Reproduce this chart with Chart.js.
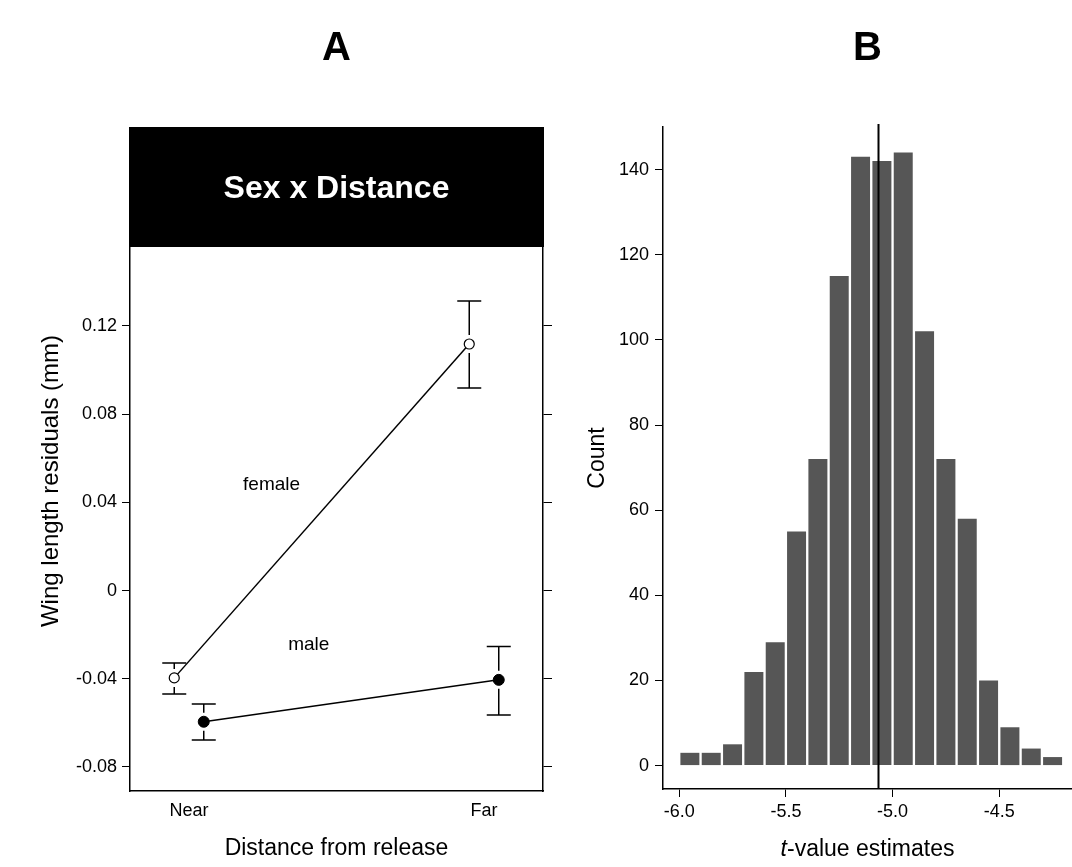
<!DOCTYPE html>
<html>
<head>
<meta charset="utf-8">
<script src="https://cdn.jsdelivr.net/npm/chart.js@4.4.1/dist/chart.umd.min.js"></script>
<style>
  html, body { margin: 0; padding: 0; background: #ffffff; }
  #page { position: relative; width: 1072px; height: 867px; overflow: hidden; }
  #panelA { position: absolute; left: 0; top: 0; width: 570px; height: 867px; }
  #panelB { position: absolute; left: 560px; top: 0; width: 512px; height: 867px; }
</style>
</head>
<body>
<div id="page">
  <div id="panelA"><canvas id="chartA"></canvas></div>
  <div id="panelB"><canvas id="chartB"></canvas></div>
</div>
<script>
// ---- Panel A: wing length residuals by sex and distance from release ----
const distanceLabels = ['Near', 'Far'];
const distancePos = [0, 1];
const femaleMean  = [-0.0396, 0.1118];
const femaleUpper = [-0.0328, 0.1313];
const femaleLower = [-0.0469, 0.0919];
const maleMean  = [-0.0595, -0.0405];
const maleUpper = [-0.0514, -0.0254];
const maleLower = [-0.0678, -0.0564];
const residualTicks = [-0.08, -0.04, 0, 0.04, 0.08, 0.12];

// ---- Panel B: distribution of t-value estimates ----
const binCentres = [-5.95, -5.85, -5.75, -5.65, -5.55, -5.45, -5.35, -5.25, -5.15,
                    -5.05, -4.95, -4.85, -4.75, -4.65, -4.55, -4.45, -4.35, -4.25];
const binCounts  = [3, 3, 5, 22, 29, 55, 72, 115, 143, 142, 144, 102, 72, 58, 20, 9, 4, 2];
const tTicks = [-6.0, -5.5, -5.0, -4.5];
const countTicks = [0, 20, 40, 60, 80, 100, 120, 140];
const observedT = -5.07;

const FONT = '"Liberation Sans", Arial, Helvetica, sans-serif';
Chart.defaults.font.family = FONT;
Chart.defaults.color = '#000';
Chart.defaults.animation = false;

const dodge = 0.05;
const sexSeries = [
  { name: 'female', offset: -dodge, mean: femaleMean, upper: femaleUpper, lower: femaleLower },
  { name: 'male',   offset:  dodge, mean: maleMean,   upper: maleUpper,   lower: maleLower }
];

// Black header band with the effect name, above the plotting area
const headerBand = {
  id: 'headerBand',
  afterDraw(chart) {
    const { ctx, chartArea } = chart;
    const top = 127;
    ctx.save();
    ctx.fillStyle = '#000';
    ctx.fillRect(chartArea.left - 1, top, chartArea.right - chartArea.left + 2, chartArea.top - top);
    ctx.fillStyle = '#fff';
    ctx.font = 'bold 32px ' + FONT;
    ctx.textAlign = 'center';
    ctx.textBaseline = 'alphabetic';
    ctx.fillText('Sex x Distance', (chartArea.left + chartArea.right) / 2, 198);
    ctx.restore();
  }
};

// Vertical axis title, centred a little above the middle of the axis
const residualTitle = {
  id: 'residualTitle',
  afterDraw(chart) {
    const { ctx } = chart;
    ctx.save();
    ctx.translate(51, 481);
    ctx.rotate(-Math.PI / 2);
    ctx.font = '24px ' + FONT;
    ctx.fillStyle = '#000';
    ctx.textAlign = 'center';
    ctx.textBaseline = 'middle';
    ctx.fillText('Wing length residuals (mm)', 0, 0);
    ctx.restore();
  }
};

// Whiskers (mean ± error) with a small gap around each marker
const errorBars = {
  id: 'errorBars',
  afterDatasetsDraw(chart) {
    const { ctx, scales: { x, y } } = chart;
    ctx.save();
    ctx.strokeStyle = '#000';
    ctx.lineWidth = 1.5;
    sexSeries.forEach(s => {
      s.mean.forEach((m, i) => {
        const px = x.getPixelForValue(distancePos[i] + s.offset);
        const pm = y.getPixelForValue(m);
        const pu = y.getPixelForValue(s.upper[i]);
        const pl = y.getPixelForValue(s.lower[i]);
        const gap = 9, half = 12;
        ctx.beginPath();
        if (pm - gap > pu) { ctx.moveTo(px, pm - gap); ctx.lineTo(px, pu); }
        if (pm + gap < pl) { ctx.moveTo(px, pm + gap); ctx.lineTo(px, pl); }
        ctx.moveTo(px - half, pu); ctx.lineTo(px + half, pu);
        ctx.moveTo(px - half, pl); ctx.lineTo(px + half, pl);
        ctx.stroke();
      });
    });
    ctx.restore();
  }
};

// Series names written beside their lines
const seriesNames = {
  id: 'seriesNames',
  afterDatasetsDraw(chart) {
    const { ctx, scales: { x, y } } = chart;
    ctx.save();
    ctx.font = '19px ' + FONT;
    ctx.fillStyle = '#000';
    ctx.textAlign = 'center';
    ctx.textBaseline = 'middle';
    ctx.fillText('female', x.getPixelForValue(0.28), y.getPixelForValue(0.048));
    ctx.fillText('male', x.getPixelForValue(0.406), y.getPixelForValue(-0.0247));
    ctx.restore();
  }
};

// Panel letter above each panel
function panelLetter(letter) {
  return {
    id: 'panelLetter',
    afterDraw(chart) {
      const { ctx, chartArea } = chart;
      ctx.save();
      ctx.font = 'bold 40px ' + FONT;
      ctx.fillStyle = '#000';
      ctx.textAlign = 'center';
      ctx.textBaseline = 'alphabetic';
      ctx.fillText(letter, (chartArea.left + chartArea.right) / 2, 60);
      ctx.restore();
    }
  };
}

const residualLabel = v => (v === 0 ? '0' : v.toFixed(2));

new Chart(document.getElementById('chartA'), {
  type: 'line',
  data: {
    datasets: [
      {
        label: 'female',
        data: distancePos.map((p, i) => ({ x: p - dodge, y: femaleMean[i] })),
        borderColor: '#000',
        borderWidth: 1.5,
        pointStyle: 'circle',
        pointRadius: 5,
        pointBorderWidth: 1.2,
        pointBackgroundColor: '#fff',
        pointBorderColor: '#000',
        tension: 0
      },
      {
        label: 'male',
        data: distancePos.map((p, i) => ({ x: p + dodge, y: maleMean[i] })),
        borderColor: '#000',
        borderWidth: 1.5,
        pointStyle: 'circle',
        pointRadius: 5.5,
        pointBorderWidth: 1,
        pointBackgroundColor: '#000',
        pointBorderColor: '#000',
        tension: 0
      }
    ]
  },
  options: {
    responsive: true,
    maintainAspectRatio: false,
    layout: { padding: { top: 247, left: 0, right: 0, bottom: 0 } },
    plugins: { legend: { display: false }, title: { display: false }, tooltip: { enabled: false } },
    scales: {
      x: {
        type: 'linear',
        min: -0.2,
        max: 1.2,
        afterBuildTicks: s => { s.ticks = distancePos.map(v => ({ value: v })); },
        afterFit: s => { s.height = 76; },
        ticks: {
          callback: v => distanceLabels[distancePos.indexOf(v)],
          font: { size: 18 },
          padding: 9,
          maxRotation: 0
        },
        grid: { display: true, drawOnChartArea: false, drawTicks: false },
        border: { display: true, color: '#000', width: 1.5 },
        title: {
          display: true,
          text: 'Distance from release',
          font: { size: 23 },
          padding: { top: 0, bottom: 5 }
        }
      },
      y: {
        type: 'linear',
        position: 'left',
        min: -0.0909,
        max: 0.1558,
        afterBuildTicks: s => { s.ticks = residualTicks.map(v => ({ value: v })); },
        afterFit: s => { s.width = 130; },
        ticks: { callback: residualLabel, font: { size: 18 }, padding: 5 },
        grid: { drawOnChartArea: false, drawTicks: true, tickLength: 8, color: '#000' },
        border: { display: true, color: '#000', width: 1.5 }
      },
      y2: {
        type: 'linear',
        position: 'right',
        min: -0.0909,
        max: 0.1558,
        afterBuildTicks: s => { s.ticks = residualTicks.map(v => ({ value: v })); },
        afterFit: s => { s.width = 27; },
        ticks: { display: false },
        grid: { drawOnChartArea: false, drawTicks: true, tickLength: 9, color: '#000' },
        border: { display: true, color: '#000', width: 1.5 }
      }
    }
  },
  plugins: [headerBand, residualTitle, errorBars, seriesNames, panelLetter('A')]
});

// Vertical reference line at the observed t-value
const observedLine = {
  id: 'observedLine',
  afterDatasetsDraw(chart) {
    const { ctx, chartArea, scales: { x } } = chart;
    const px = Math.round(x.getPixelForValue(observedT)) + 0.5;
    ctx.save();
    ctx.strokeStyle = '#000';
    ctx.lineWidth = 2;
    ctx.beginPath();
    ctx.moveTo(px, chartArea.top - 3);
    ctx.lineTo(px, chartArea.bottom);
    ctx.stroke();
    ctx.restore();
  }
};

// Axis title with an italic "t"
const tAxisTitle = {
  id: 'tAxisTitle',
  afterDraw(chart) {
    const { ctx, chartArea } = chart;
    const cx = (chartArea.left + chartArea.right) / 2;
    const yBase = 856;
    ctx.save();
    ctx.fillStyle = '#000';
    ctx.textBaseline = 'alphabetic';
    ctx.textAlign = 'left';
    const italic = 'italic 23px ' + FONT;
    const normal = '23px ' + FONT;
    ctx.font = italic;
    const w1 = ctx.measureText('t').width;
    ctx.font = normal;
    const w2 = ctx.measureText('-value estimates').width;
    const x0 = cx - (w1 + w2) / 2;
    ctx.font = italic;
    ctx.fillText('t', x0, yBase);
    ctx.font = normal;
    ctx.fillText('-value estimates', x0 + w1, yBase);
    ctx.restore();
  }
};

new Chart(document.getElementById('chartB'), {
  type: 'bar',
  data: {
    datasets: [{
      label: 'Count',
      data: binCentres.map((c, i) => ({ x: c, y: binCounts[i] })),
      backgroundColor: '#565656',
      borderWidth: 0,
      categoryPercentage: 1.0,
      barPercentage: 0.89
    }]
  },
  options: {
    responsive: true,
    maintainAspectRatio: false,
    layout: { padding: { top: 127, left: 0, right: 0, bottom: 0 } },
    plugins: { legend: { display: false }, title: { display: false }, tooltip: { enabled: false } },
    scales: {
      x: {
        type: 'linear',
        min: -6.076,
        max: -4.159,
        offset: false,
        afterBuildTicks: s => { s.ticks = tTicks.map(v => ({ value: v })); },
        afterFit: s => { s.height = 78; },
        ticks: { callback: v => v.toFixed(1), font: { size: 18 }, padding: 4, maxRotation: 0 },
        grid: { offset: false, drawOnChartArea: false, drawTicks: true, tickLength: 8, color: '#000' },
        border: { display: true, color: '#000', width: 1.5 }
      },
      y: {
        type: 'linear',
        min: -5.5,
        max: 150,
        afterBuildTicks: s => { s.ticks = countTicks.map(v => ({ value: v })); },
        afterFit: s => { s.width = 103; },
        ticks: { font: { size: 18 }, padding: 6 },
        grid: { drawOnChartArea: false, drawTicks: true, tickLength: 8, color: '#000' },
        border: { display: true, color: '#000', width: 1.5 },
        title: {
          display: true,
          text: 'Count',
          font: { size: 23 },
          padding: { top: 24, bottom: 0 }
        }
      }
    }
  },
  plugins: [observedLine, tAxisTitle, panelLetter('B')]
});
</script>
</body>
</html>
